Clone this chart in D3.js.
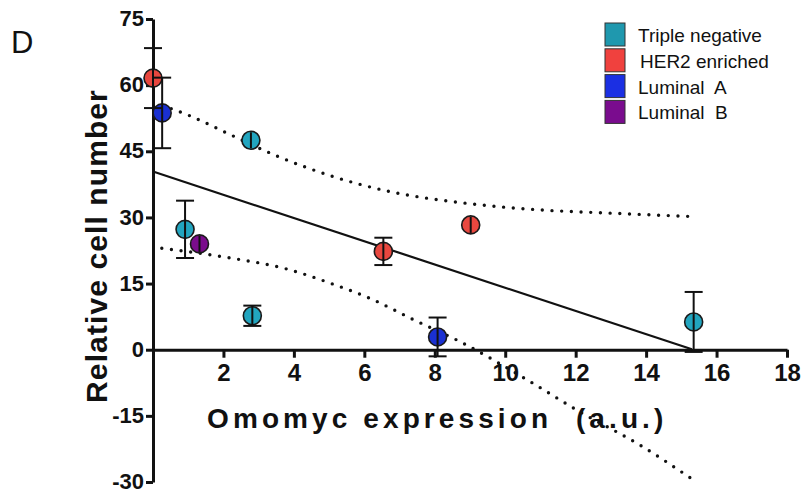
<!DOCTYPE html>
<html>
<head>
<meta charset="utf-8">
<script src="https://d3js.org/d3.v7.min.js"></script>
<style>
  body { margin: 0; background: #fff; }
  svg text { font-family: "Liberation Sans", Arial, sans-serif; fill: #111; }
  .axis path, .axis line { stroke: #111; stroke-width: 3; }
  .axis text { font-weight: bold; }
</style>
</head>
<body>
<svg width="806" height="492"></svg>
<script>
// legend categories + colours
const categories = ["Triple negative", "HER2 enriched", "Luminal  A", "Luminal  B"];
const fills = ["#22a5bf", "#e8473f", "#1a30d2", "#7a0c8c"];
const legendFills = ["#1f98ae", "#f0413e", "#1b2fe3", "#7a0c8e"];

// points: group index, x, y, error (SEM)
const pointGroup = [0, 0, 0, 0, 1, 1, 1, 2, 2, 3];
const pointX = [0.91, 2.78, 2.82, 15.35, 0.0, 6.54, 9.02, 0.26, 8.08, 1.32];
const pointY = [27.3, 47.5, 7.7, 6.3, 61.6, 22.3, 28.3, 53.7, 2.9, 24.0];
const pointErr = [6.5, 1.5, 2.3, 6.8, 6.8, 3.1, 1.5, 8.0, 4.4, 1.5];

// regression line
const fitX = [0, 15.3];
const fitY = [40.4, 0.1];

// 95% confidence band (dotted)
const upperX = [0.26, 1.0, 2.24, 3.5, 5.1, 6.7, 8.9, 11.0, 12.9, 15.3];
const upperY = [55.4, 53.2, 48.6, 44.0, 39.3, 35.9, 33.2, 31.7, 31.0, 30.2];
const lowerX = [0.25, 2.2, 3.8, 5.1, 6.2, 7.4, 8.7, 10.7, 12.1, 13.8, 15.3];
const lowerY = [23.0, 20.8, 18.3, 14.9, 11.5, 6.8, 1.9, -7.2, -14.0, -21.5, -29.3];

// ticks
const xTicks = [2, 4, 6, 8, 10, 12, 14, 16, 18];
const yTicks = [-30, -15, 0, 15, 30, 45, 60, 75];

const svg = d3.select("svg");
const x = d3.scaleLinear().domain([0, 18]).range([153, 787]);
const y = d3.scaleLinear().domain([-30, 75]).range([482, 19]);

// axes
svg.append("g")
  .attr("class", "axis")
  .attr("transform", "translate(0," + y(0) + ")")
  .call(d3.axisBottom(x).tickValues(xTicks).tickFormat(d => String(d))
    .tickSize(8).tickSizeOuter(0).tickPadding(6))
  .call(g => g.selectAll("text").attr("font-size", 24).attr("font-family", null));

svg.append("g")
  .attr("class", "axis")
  .attr("transform", "translate(" + x(0) + ",0)")
  .call(d3.axisLeft(y).tickValues(yTicks).tickFormat(d => String(d))
    .tickSize(7).tickSizeOuter(0).tickPadding(2))
  .call(g => g.selectAll("text").attr("font-size", 22).attr("font-family", null).attr("dy", "0.3em"));

// confidence band
const line = d3.line().x(d => x(d[0])).y(d => y(d[1])).curve(d3.curveMonotoneX);
[[upperX, upperY], [lowerX, lowerY]].forEach(([xs, ys]) => {
  svg.append("path")
    .datum(xs.map((v, i) => [v, ys[i]]))
    .attr("d", line)
    .attr("fill", "none")
    .attr("stroke", "#111")
    .attr("stroke-width", 3.4)
    .attr("stroke-linecap", "round")
    .attr("stroke-dasharray", "0 9.7");
});

// regression
svg.append("path")
  .datum(fitX.map((v, i) => [v, fitY[i]]))
  .attr("d", d3.line().x(d => x(d[0])).y(d => y(d[1])))
  .attr("fill", "none")
  .attr("stroke", "#111")
  .attr("stroke-width", 2.2);

// points
const pts = pointX.map((v, i) => ({ x: v, y: pointY[i], e: pointErr[i], g: pointGroup[i] }));
const r = 9;

svg.selectAll(".pt")
  .data(pts)
  .enter()
  .append("circle")
  .attr("class", "pt")
  .attr("cx", d => x(d.x))
  .attr("cy", d => y(d.y))
  .attr("r", r)
  .attr("fill", d => fills[d.g])
  .attr("stroke", "#1a1a1a")
  .attr("stroke-width", 1.6);

// error bars drawn over the symbols; short ones stay inside the circle
const eb = svg.selectAll(".eb").data(pts).enter().append("g").attr("class", "eb");
eb.append("line")
  .attr("x1", d => x(d.x)).attr("x2", d => x(d.x))
  .attr("y1", d => Math.min(y(d.y + d.e), y(d.y) - r + 1))
  .attr("y2", d => Math.max(y(d.y - d.e), y(d.y) + r - 1))
  .attr("stroke", "#111").attr("stroke-width", 2);
eb.filter(d => y(d.y - d.e) - y(d.y) > r).each(function (d) {
  const g = d3.select(this);
  [d.y + d.e, d.y - d.e].forEach(v => {
    g.append("line")
      .attr("x1", x(d.x) - 9).attr("x2", x(d.x) + 9)
      .attr("y1", y(v)).attr("y2", y(v))
      .attr("stroke", "#111").attr("stroke-width", 2);
  });
});

// axis titles
svg.append("text")
  .attr("x", 207).attr("y", 428)
  .attr("font-size", 28).attr("font-weight", "bold")
  .attr("letter-spacing", 4.1)
  .style("white-space", "pre")
  .text("Omomyc expression  (a.u.)");

svg.append("text")
  .attr("transform", "translate(107,246) rotate(-90)")
  .attr("text-anchor", "middle")
  .attr("font-size", 30).attr("font-weight", "bold")
  .attr("letter-spacing", 1.1)
  .text("Relative cell number");

// panel letter
svg.append("text")
  .attr("x", 11).attr("y", 53)
  .attr("font-size", 31)
  .text("D");

// legend
const leg = svg.selectAll(".leg").data(categories).enter().append("g")
  .attr("class", "leg")
  .attr("transform", (d, i) => "translate(605," + (23 + i * 25.8) + ")");
leg.append("rect")
  .attr("width", 20).attr("height", 23)
  .attr("fill", (d, i) => legendFills[i])
  .attr("stroke", "#333").attr("stroke-width", 1);
leg.append("text")
  .attr("x", (d, i) => i === 1 ? 35 : 33).attr("y", 19)
  .attr("font-size", 19)
  .style("white-space", "pre")
  .text(d => d);
</script>
</body>
</html>
